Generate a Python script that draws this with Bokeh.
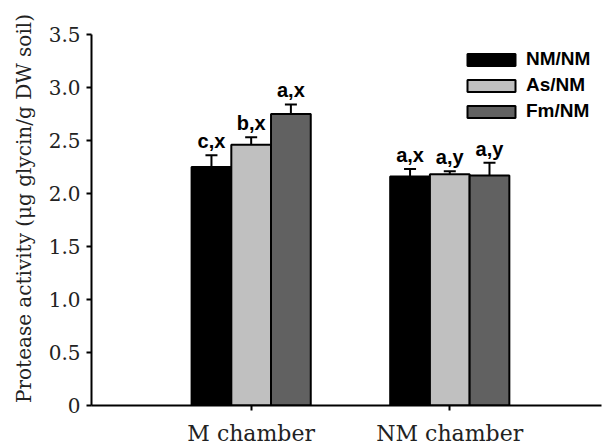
from bokeh.plotting import figure
from bokeh.models import (Range1d, FixedTicker, Whisker, TeeHead, ColumnDataSource,
                          Legend, LegendItem, CustomJSTickFormatter)
from bokeh.core.properties import value
from bokeh.embed import file_html
from bokeh.resources import INLINE

# ---- data ----
groups = ["M chamber", "NM chamber"]
treatments = ["NM/NM", "As/NM", "Fm/NM"]
nmnm_mean = [2.25, 2.16]
nmnm_se = [0.11, 0.07]
asnm_mean = [2.46, 2.18]
asnm_se = [0.07, 0.03]
fmnm_mean = [2.75, 2.17]
fmnm_se = [0.09, 0.12]
nmnm_letters = ["c,x", "a,x"]
asnm_letters = ["b,x", "a,y"]
fmnm_letters = ["a,x", "a,y"]
y_ticks = [0, 0.5, 1.0, 1.5, 2.0, 2.5, 3.0, 3.5]

colors = ["#000000", "#c0c0c0", "#616161"]
offsets = [-0.2, 0.0, 0.2]
bar_w = 0.2

p = figure(width=603, height=448, output_backend="svg", toolbar_location=None,
           x_range=Range1d(0.196, 2.764), y_range=Range1d(0, 3.716),
           min_border_left=91, min_border_right=2, min_border_top=11, min_border_bottom=42)
p.outline_line_color = None
p.xgrid.visible = False
p.ygrid.visible = False
p.background_fill_color = "white"

series = [(nmnm_mean, nmnm_se, nmnm_letters),
          (asnm_mean, asnm_se, asnm_letters),
          (fmnm_mean, fmnm_se, fmnm_letters)]

items = []
for k, (means, ses, letters) in enumerate(series):
    xs = [i + 1 + offsets[k] for i in range(len(groups))]
    src = ColumnDataSource(dict(x=xs, top=means,
                                upper=[m + s for m, s in zip(means, ses)],
                                lower=means, lab=letters))
    r = p.vbar(x="x", top="top", width=bar_w, bottom=0, source=src,
               fill_color=colors[k], line_color="black", line_width=2)
    w = Whisker(source=src, base="x", upper="upper", lower="lower", dimension="height",
                line_color="black", line_width=2,
                upper_head=TeeHead(size=12, line_width=2, line_color="black"),
                lower_head=None, level="glyph")
    p.add_layout(w)
    p.text(x="x", y="upper", text="lab", source=src, text_align="center",
           text_baseline="alphabetic", y_offset=-14,
           text_font=value("Liberation Sans"), text_font_style="bold",
           text_font_size="20px", text_color="black")
    items.append(LegendItem(label=treatments[k], renderers=[r]))

legend = Legend(items=items, location=(370, 283), padding=0, margin=0,
                border_line_color=None, background_fill_alpha=0,
                glyph_width=60, glyph_height=15, label_height=15, spacing=4,
                label_standoff=5, label_text_font="Liberation Sans",
                label_text_font_style="bold", label_text_font_size="19px",
                label_text_color="black")
p.add_layout(legend, "center")

# axes
xa = p.xaxis[0]
xa.ticker = FixedTicker(ticks=[1, 2])
xa.formatter = CustomJSTickFormatter(args=dict(labels=groups),
                                     code="return labels[Math.round(tick) - 1];")
xa.axis_line_width = 2
xa.major_tick_line_width = 2
xa.major_tick_out = 5
xa.major_tick_in = 0
xa.minor_tick_line_color = None
xa.major_label_standoff = 10
xa.major_label_text_font = "DejaVu Serif"
xa.major_label_text_font_size = "22px"
xa.major_label_text_color = "#222222"

ya = p.yaxis[0]
ya.ticker = FixedTicker(ticks=y_ticks)
ya.formatter = CustomJSTickFormatter(code="return tick == 0 ? '0' : tick.toFixed(1);")
ya.bounds = (0, 3.5)
ya.axis_line_width = 2
ya.major_tick_line_width = 2
ya.major_tick_out = 5
ya.major_tick_in = 0
ya.minor_tick_line_color = None
ya.major_label_standoff = 6
ya.major_label_text_font = "DejaVu Serif"
ya.major_label_text_font_size = "20px"
ya.major_label_text_color = "#222222"
ya.axis_label = "Protease activity (μg glycin/g DW soil)"
ya.axis_label_text_font = "DejaVu Serif"
ya.axis_label_text_font_size = "20px"
ya.axis_label_text_font_style = "normal"
ya.axis_label_text_color = "#222222"
ya.axis_label_standoff = 10

open("out.html", "w").write(file_html(p, INLINE))
